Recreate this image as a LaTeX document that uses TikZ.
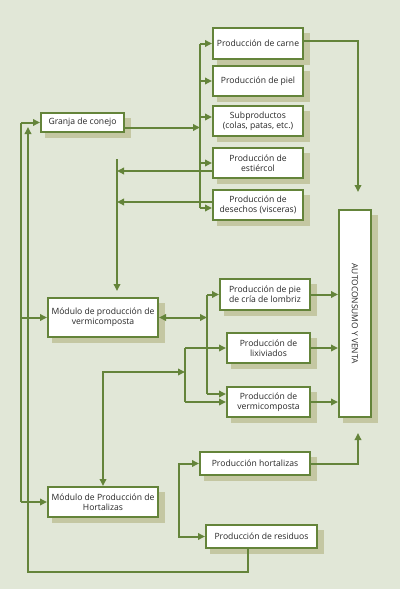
\documentclass[tikz,border=0pt]{standalone}
\usepackage{fontspec}
\setmainfont{Open Sans}
\usetikzlibrary{arrows.meta}
\definecolor{bgc}{HTML}{E1E7D7}
\definecolor{linec}{HTML}{64843A}
\definecolor{shadc}{HTML}{C4C7A2}
\definecolor{txtc}{HTML}{262626}
\pgfdeclarelayer{bg}
\pgfdeclarelayer{shade}
\pgfsetlayers{bg,shade,main}
\tikzset{
  box/.style   = {draw=linec, line width=2pt, fill=white, text=txtc, align=center,
                  inner sep=1pt, font=\fontsize{8.6}{10}\selectfont},
  wire/.style  = {draw=linec, line width=2pt},
  arr/.style   = {wire, -{Triangle[length=7pt,width=6.5pt]}},
  arrs/.style  = {wire, {Triangle[length=7pt,width=6.5pt]}-{Triangle[length=7pt,width=6.5pt]}},
}

\begin{document}
\begin{tikzpicture}[x=1pt, y=-1pt]
  \begin{pgfonlayer}{bg}
    \fill[bgc] (0,0) rectangle (400,589);
  \end{pgfonlayer}
  \useasboundingbox (0,0) rectangle (400,589);

  % boxes
  \node[box, minimum width=83pt, minimum height=19pt]  (granja)    at (82.5,122.5) {Granja de conejo};
  \node[box, minimum width=90pt, minimum height=31pt]  (carne)     at (258,43.5)   {Producción de carne};
  \node[box, minimum width=90pt, minimum height=30pt]  (piel)      at (258,81)     {Producción de piel};
  \node[box, minimum width=90pt, minimum height=30pt]  (subp)      at (258,121)    {Subproductos\\(colas, patas, etc.)};
  \node[box, minimum width=90pt, minimum height=30pt]  (estiercol) at (258,163)    {Producción de\\estiércol};
  \node[box, minimum width=90pt, minimum height=30pt]  (desechos)  at (258,205)    {Producción de\\desechos (visceras)};
  \node[box, minimum width=32pt, minimum height=207pt] (autoc)     at (355,313.5)  {};
  \node[rotate=-90, text=txtc, font=\fontsize{8.4}{9}\selectfont] at (autoc.center) {AUTOCONSUMO Y VENTA};
  \node[box, minimum width=110pt, minimum height=39pt] (vermimod)  at (103,317.5)  {Módulo de producción de\\vermicomposta};
  \node[box, minimum width=90pt, minimum height=31pt]  (pie)       at (265,294.5)  {Producción de pie\\de cría de lombriz};
  \node[box, minimum width=83pt, minimum height=30pt]  (lixiv)     at (268.5,348)  {Producción de\\lixiviados};
  \node[box, minimum width=83pt, minimum height=30pt]  (vermi)     at (268.5,402)  {Producción de\\vermicomposta};
  \node[box, minimum width=110pt, minimum height=23pt] (hort)      at (255,463.5)  {Producción hortalizas};
  \node[box, minimum width=110pt, minimum height=30pt] (hortmod)   at (103,502)    {Módulo de Producción de\\Hortalizas};
  \node[box, minimum width=111pt, minimum height=23pt] (resid)     at (261.5,536.5){Producción de residuos};

  % shadows
  \begin{pgfonlayer}{shade}
    \foreach \n in {granja,carne,piel,subp,estiercol,desechos,autoc,vermimod,pie,lixiv,vermi,hort,hortmod,resid}
      \fill[shadc] ([shift={(4.5pt,-4.5pt)}]\n.south west) rectangle ([shift={(5.5pt,-5.5pt)}]\n.north east);
  \end{pgfonlayer}

  % bus points
  \coordinate (lb)   at (21,0);
  \coordinate (tb)   at (200,0);
  \coordinate (vbt)  at (117,159);
  \coordinate (vbb)  at (117,291);
  \coordinate (mb)   at (207,0);
  \coordinate (b2)   at (185,372);
  \coordinate (b3)   at (179,500);
  \coordinate (cvd)  at (358,192);
  \coordinate (hvu)  at (358,433);
  \coordinate (retc) at (248,572);
  \coordinate (rett) at (28,127);
  \coordinate (gout) at ([yshift=-5pt]granja.east);
  \coordinate (sin)  at ([yshift=4pt]subp.west);
  \coordinate (eout) at ([yshift=-8pt]estiercol.west);
  \coordinate (dout) at ([yshift=3pt]desechos.west);
  \coordinate (din)  at ([yshift=-3pt]desechos.west);
  \coordinate (vin)  at ([yshift=8pt]vermi.west);

  % left bus
  \draw[wire] (lb |- granja.west) -- (lb |- hortmod.west);
  \draw[arr] (lb |- granja.west) -- (granja.west);
  \draw[arr] (lb |- vermimod.west) -- (vermimod.west);
  \draw[arr] (lb |- hortmod.west) -- (hortmod.west);
  \draw[arr, line width=2.5pt] (retc |- resid.south) -- (retc) -| (rett);

  % rabbit farm outputs
  \draw[arr] (gout) -- (gout -| tb);
  \draw[wire] (tb |- carne.west) -- (tb |- din);
  \draw[arr] (tb |- carne.west) -- (carne.west);
  \draw[arr] (tb |- piel.west) -- (piel.west);
  \draw[arr] (tb |- sin) -- (sin);
  \draw[arr] (tb |- estiercol.west) -- (estiercol.west);
  \draw[arr] (tb |- din) -- (din);
  \draw[arr] ([yshift=3pt]carne.east) -| (cvd);

  % to vermicomposting
  \draw[arr] (eout) -- (eout -| vbt);
  \draw[arr] (dout) -- (dout -| vbt);
  \draw[arr] (vbt) -- (vbb);
  \draw[arrs] (vermimod.east) -- (vermimod.east -| mb);
  \draw[wire] (mb |- pie.west) -- (mb |- vin);
  \draw[arr] (mb |- pie.west) -- (pie.west);
  \draw[arr] (mb |- vin) -- (vin);

  % vegetables
  \draw[arrs] (hortmod.north) |- (b2);
  \draw[wire] (b2 |- lixiv.west) -- (b2 |- vermi.west);
  \draw[arr] (b2 |- lixiv.west) -- (lixiv.west);
  \draw[arr] (b2 |- vermi.west) -- (vermi.west);
  \draw[arrs] (hort.west) -| (b3) |- (resid.west);

  % to consumption and sale
  \draw[arr] (pie.east) -- (pie.east -| autoc.west);
  \draw[arr] (lixiv.east) -- (lixiv.east -| autoc.west);
  \draw[arr] (vermi.east) -- (vermi.east -| autoc.west);
  \draw[arr] (hort.east) -| (hvu);
\end{tikzpicture}
\end{document}
